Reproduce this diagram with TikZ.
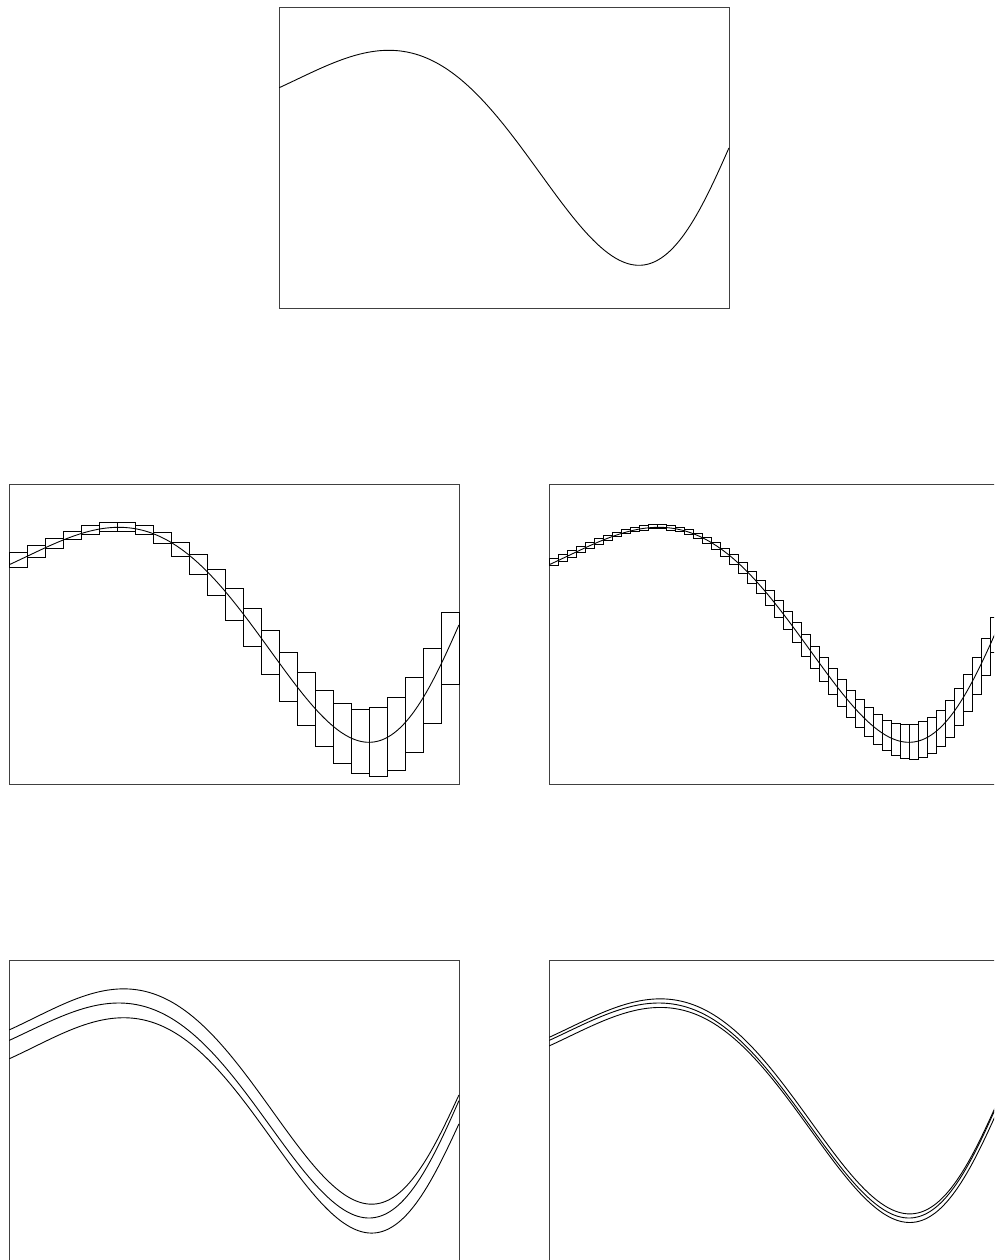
\documentclass[tikz,border=0pt]{standalone}
\begin{document}
\begin{tikzpicture}[x=1pt,y=-1pt,
  declare function={phs(\t)=0.711+2.535*\t+5.078*\t^2-4.649*\t^3+2.708*\t^4;
    fw(\t)=150.5-107.5*sin(deg(phs(\t)));
    aw(\t)=3.7+2.4*\t-110.62*\t^2+186.93*\t^3-73.81*\t^4;},
  frame/.style={draw=black!75,line width=0.9pt},
  curve/.style={draw=black,line width=0.9pt},
  binbox/.style={draw=black,line width=0.8pt},
  fplot/.style={domain=0:1,samples=220}]
\useasboundingbox (0,0) rectangle (994,1260);
\clip (0,0) rectangle (994,1260);
\coordinate (pA) at (279.3,7.3);
\coordinate (pB) at (9.3,484.3);
\coordinate (pC) at (549.3,484.3);
\coordinate (pD) at (9.3,960);
\coordinate (pE) at (549.3,960);
% panel A
\begin{scope}[shift={(pA)}]
  \draw[frame] (0,0) rectangle (450,301);
  \draw[curve] plot[fplot] ({450*\x},{fw(\x)});
\end{scope}
% panel B
\begin{scope}[shift={(pB)}]
  \draw[frame] (0,0) rectangle (450,300);
  \foreach \bx/\bt/\bb in {0/68.4/83.4,18/61/73.4,36/54.4/64,54/47.4/55,72/41.4/49.7,90/38.4/46.7,108/38.4/46.7,126/41.4/49.7,144/48/59,162/58/71.7,180/70/90,198/85.4/111.4,216/104/135.7,234/124/162.4,252/145.7/189.7,270/168/216.7,288/188/241,306/206/262.4,324/219.4/279,342/225/289,360/223/292.4,378/213/285.7,396/193/268,414/164.4/239.4,432/127.7/200}
    \draw[binbox] (\bx,\bt) rectangle ({\bx+18},\bb);
  \draw[curve] plot[fplot] ({450*\x},{fw(\x)});
\end{scope}
% panel C
\begin{scope}[shift={(pC)}]
  \draw[frame] (0,0) rectangle (450,300);
  \foreach \bx/\bt/\bb in {0/74/81.4,9/70/76.7,18/66.4/72.7,27/62/68.4,36/58.4/64,45/54.4/59.7,54/51/56,63/47.7/52.4,72/45/49.4,81/43/47.4,90/41.4/45.7,99/40/44.4,108/40/44.4,117/41.4/45.7,126/43/47.4,135/45/50,144/48.7/54,153/53/59,162/58/64.7,171/63.7/71.7,180/70.4/80,189/78/89.4,198/86.7/99,207/96/109.4,216/105.7/120.7,225/116.4/133,234/127/144.7,243/138.4/158,252/150/171.7,261/161.7/184,270/173/197,279/184/209.7,288/195/221.7,297/205.7/233,306/215/243,315/223/252,324/230/260,333/235.7/266,342/239/270.7,351/240.4/273.7,360/239.7/274.7,369/237.4/273.4,378/232.7/268.7,387/225.7/262.4,396/216/253.4,405/204/241.4,414/189.7/227,423/173/210,432/154/190.7,441/133/168.4}
    \draw[binbox] (\bx,\bt) rectangle ({\bx+9},\bb);
  \draw[curve] plot[fplot] ({450*\x},{fw(\x)});
\end{scope}
% panel D
\begin{scope}[shift={(pD)}]
  \draw[frame] (0,0) rectangle (450,301);
  \draw[curve] plot[fplot] ({450*\x},{fw(\x)-14.2+aw(\x)});
  \draw[curve] plot[fplot] ({450*\x},{fw(\x)});
  \draw[curve] plot[fplot] ({450*\x},{fw(\x)+14.7+aw(\x)});
\end{scope}
% panel E
\begin{scope}[shift={(pE)}]
  \draw[frame] (0,0) rectangle (450,301);
  \draw[curve] plot[fplot] ({450*\x},{fw(\x)-4.2+0.3*aw(\x)});
  \draw[curve] plot[fplot] ({450*\x},{fw(\x)});
  \draw[curve] plot[fplot] ({450*\x},{fw(\x)+4.4+0.3*aw(\x)});
\end{scope}
\end{tikzpicture}
\end{document}
